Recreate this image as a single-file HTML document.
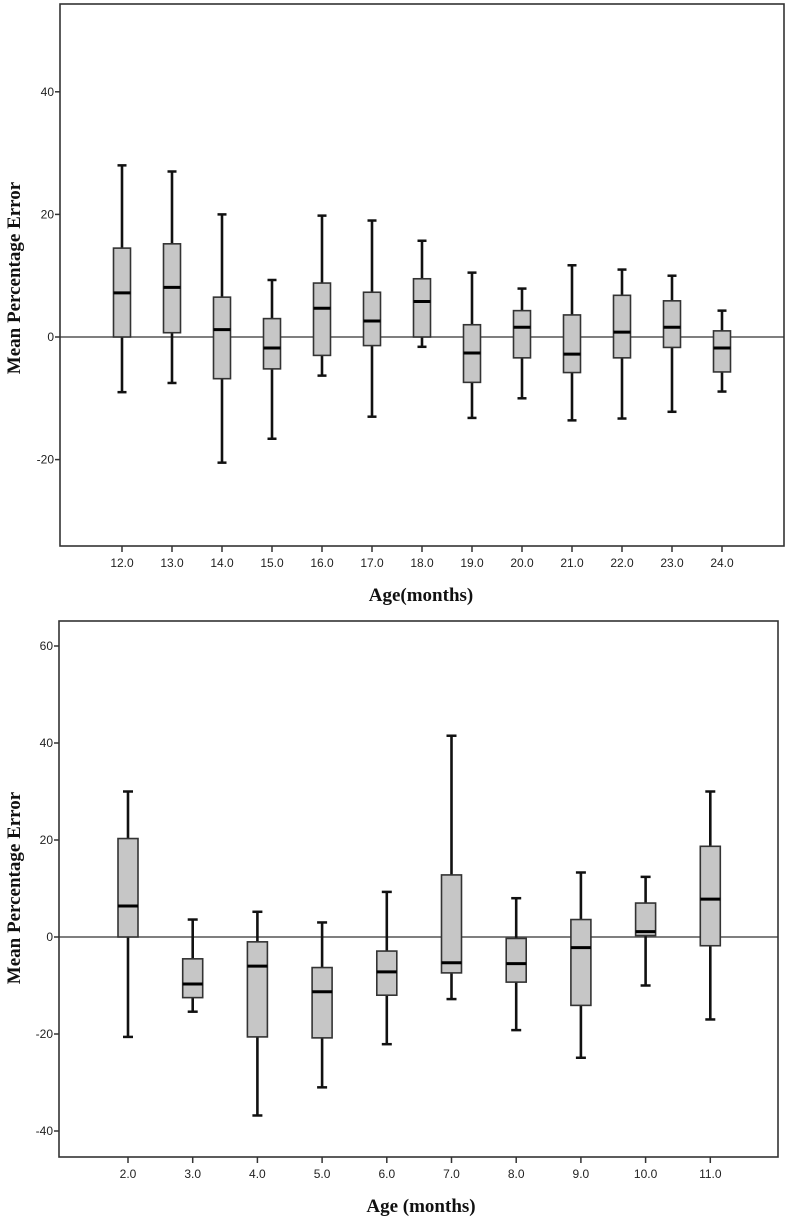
<!DOCTYPE html>
<html><head><meta charset="utf-8"><style>
body{margin:0;background:#fff;}
svg{display:block;}
text{font-family:"Liberation Sans",Arial,sans-serif;}
.t{font-size:12px;fill:#222;}
.ttl{font-family:"Liberation Serif",serif;font-weight:bold;font-size:19px;fill:#111;}
</style></head><body>
<svg id="chart" width="792" height="1224" xmlns="http://www.w3.org/2000/svg"></svg>
<script>
// Top chart data
const topCats = ["12.0","13.0","14.0","15.0","16.0","17.0","18.0","19.0","20.0","21.0","22.0","23.0","24.0"];
const topMax = [28,27,20,9.3,19.8,19,15.7,10.5,7.9,11.7,11,10,4.3];
const topQ3 = [14.5,15.2,6.5,3,8.8,7.3,9.5,2,4.3,3.6,6.8,5.9,1];
const topMed = [7.2,8.1,1.2,-1.8,4.7,2.6,5.8,-2.6,1.6,-2.8,0.8,1.6,-1.8];
const topQ1 = [0,0.7,-6.8,-5.2,-3,-1.4,0,-7.4,-3.4,-5.8,-3.4,-1.7,-5.7];
const topMin = [-9,-7.5,-20.5,-16.6,-6.3,-13,-1.6,-13.2,-10,-13.6,-13.3,-12.2,-8.9];
const topTicks = [40,20,0,-20];
// Bottom chart data
const botCats = ["2.0","3.0","4.0","5.0","6.0","7.0","8.0","9.0","10.0","11.0"];
const botMax = [30,3.6,5.2,3,9.3,41.5,8,13.3,12.4,30];
const botQ3 = [20.3,-4.5,-1,-6.3,-2.9,12.8,-0.3,3.6,7,18.7];
const botMed = [6.4,-9.7,-6,-11.3,-7.2,-5.3,-5.5,-2.2,1.1,7.8];
const botQ1 = [0,-12.5,-20.6,-20.8,-12,-7.4,-9.3,-14.1,0.3,-1.8];
const botMin = [-20.6,-15.4,-36.8,-31,-22.1,-12.8,-19.2,-24.9,-10,-17];
const botTicks = [60,40,20,0,-20,-40];

const svg=document.getElementById('chart');
const NS='http://www.w3.org/2000/svg';
function mk(tag,attrs,parent){const e=document.createElementNS(NS,tag);for(const k in attrs)e.setAttribute(k,attrs[k]);(parent||svg).appendChild(e);return e;}

function drawChart(p){
  const g=mk('g',{});
  
  
  const y=v=>p.y0-v*p.ys;
  const x=i=>p.x0+i*p.xs;
  const fr=mk('rect',{x:p.L,y:p.T,width:p.R-p.L,height:p.B-p.T,fill:'none',stroke:'#333','stroke-width':1.6},g);
  
  
  p.ticks.forEach(v=>{
    const tl=mk('line',{x1:p.L-5,x2:p.L,y1:y(v),y2:y(v),stroke:'#333','stroke-width':1.5},g);
    
    
    const tx=mk('text',{x:p.L-6,y:y(v)+4,'text-anchor':'end',class:'t'},g);
    tx.textContent=v;
    
    
  });
  const z=mk('line',{x1:p.L,x2:p.R,y1:y(0),y2:y(0),stroke:'#333','stroke-width':1.3},g);
  
  
  p.cats.forEach((c,i)=>{
    const cx=x(i),hw=p.bw/2,cw=p.cw/2;
    const bg=mk('g',{},g);
    
    
    mk('line',{x1:cx,x2:cx,y1:y(p.max[i]),y2:y(p.q3[i]),stroke:'#111','stroke-width':2.6},bg);
    mk('line',{x1:cx,x2:cx,y1:y(p.q1[i]),y2:y(p.min[i]),stroke:'#111','stroke-width':2.6},bg);
    mk('line',{x1:cx-cw,x2:cx+cw,y1:y(p.max[i]),y2:y(p.max[i]),stroke:'#111','stroke-width':2.5},bg);
    mk('line',{x1:cx-cw,x2:cx+cw,y1:y(p.min[i]),y2:y(p.min[i]),stroke:'#111','stroke-width':2.5},bg);
    mk('rect',{x:cx-hw,y:y(p.q3[i]),width:p.bw,height:y(p.q1[i])-y(p.q3[i]),fill:'#c6c6c6',stroke:'#333','stroke-width':1.6},bg);
    mk('line',{x1:cx-hw,x2:cx+hw,y1:y(p.med[i]),y2:y(p.med[i]),stroke:'#000','stroke-width':3},bg);
    const tk=mk('line',{x1:cx,x2:cx,y1:p.B,y2:p.B+6,stroke:'#333','stroke-width':1.5},g);
    
    
    const tx=mk('text',{x:cx,y:p.B+21,'text-anchor':'middle',class:'t'},g);
    tx.textContent=c;
    
    
  });
  const xt=mk('text',{x:p.xtx,y:p.B+55,'text-anchor':'middle',class:'ttl'},g);
  xt.textContent=p.xtitle;
  
  
  const yc=p.yc;
  const yt=mk('text',{x:20,y:yc,'text-anchor':'middle',class:'ttl',transform:'rotate(-90 20 '+yc+')'},g);
  yt.textContent='Mean Percentage Error';
  
  
}

drawChart({name:'top-boxplot-chart',L:60,R:784,T:4,B:546,y0:337,ys:6.13,x0:122,xs:50,bw:17,cw:9,yc:278,
  cats:topCats,max:topMax,q3:topQ3,med:topMed,q1:topQ1,min:topMin,ticks:topTicks,xtitle:'Age(months)',xtx:421});
drawChart({name:'bottom-boxplot-chart',L:59,R:778,T:621,B:1157,y0:937,ys:4.85,x0:128,xs:64.7,bw:20,cw:10,yc:888,
  cats:botCats,max:botMax,q3:botQ3,med:botMed,q1:botQ1,min:botMin,ticks:botTicks,xtitle:'Age (months)',xtx:421});
</script>
</body></html>
